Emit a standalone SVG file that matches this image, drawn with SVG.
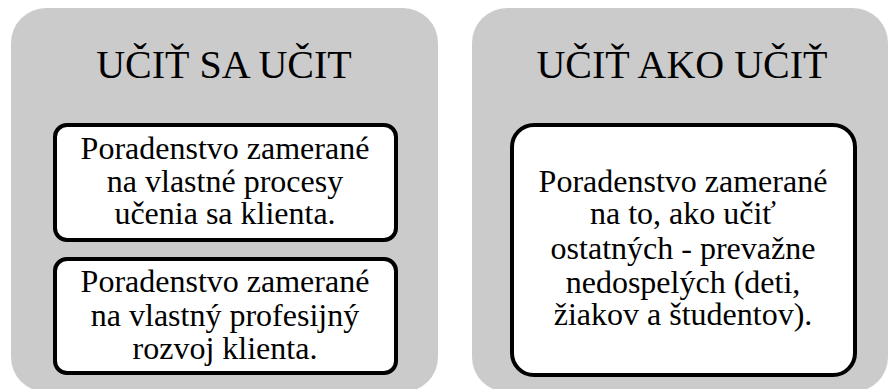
<svg xmlns="http://www.w3.org/2000/svg" width="889" height="389" viewBox="0 0 889 389">
<style>
.panel{fill:#cbcbcb;}
.box{fill:#ffffff;stroke:#000000;stroke-width:4;}
.title{font-family:"Liberation Serif","Times New Roman",serif;font-size:40px;fill:#000;text-anchor:middle;}
.txt{font-family:"Liberation Serif","Times New Roman",serif;font-size:32px;fill:#000;text-anchor:middle;}
</style>
<rect width="889" height="389" fill="#ffffff"/>
<g id="panel-left">
<rect class="panel" x="11" y="8" width="427" height="384" rx="35" ry="35"/>
<text class="title" x="224" y="78">UČIŤ SA UČIT</text>
</g>
<g id="panel-right">
<rect class="panel" x="472" y="8" width="416" height="384" rx="35" ry="35"/>
<text class="title" x="682" y="78">UČIŤ AKO UČIŤ</text>
</g>
<g id="box-1">
<rect class="box" x="55" y="125" width="341" height="115" rx="12" ry="12"/>
<text class="txt" x="225" y="159">Poradenstvo zamerané</text>
<text class="txt" x="225" y="192">na vlastné procesy</text>
<text class="txt" x="225" y="224">učenia sa klienta.</text>
</g>
<g id="box-2">
<rect class="box" x="55" y="259" width="341" height="114" rx="12" ry="12"/>
<text class="txt" x="225" y="292">Poradenstvo zamerané</text>
<text class="txt" x="225" y="326">na vlastný profesijný</text>
<text class="txt" x="225" y="359">rozvoj klienta.</text>
</g>
<g id="box-3">
<rect class="box" x="512" y="125" width="343" height="250" rx="22" ry="22"/>
<text class="txt" x="683" y="192">Poradenstvo zamerané</text>
<text class="txt" x="683" y="224">na to, ako učiť</text>
<text class="txt" x="683" y="259">ostatných - prevažne</text>
<text class="txt" x="683" y="293">nedospelých (deti,</text>
<text class="txt" x="683" y="325">žiakov a študentov).</text>
</g>
<g id="connectors"></g>
</svg>
